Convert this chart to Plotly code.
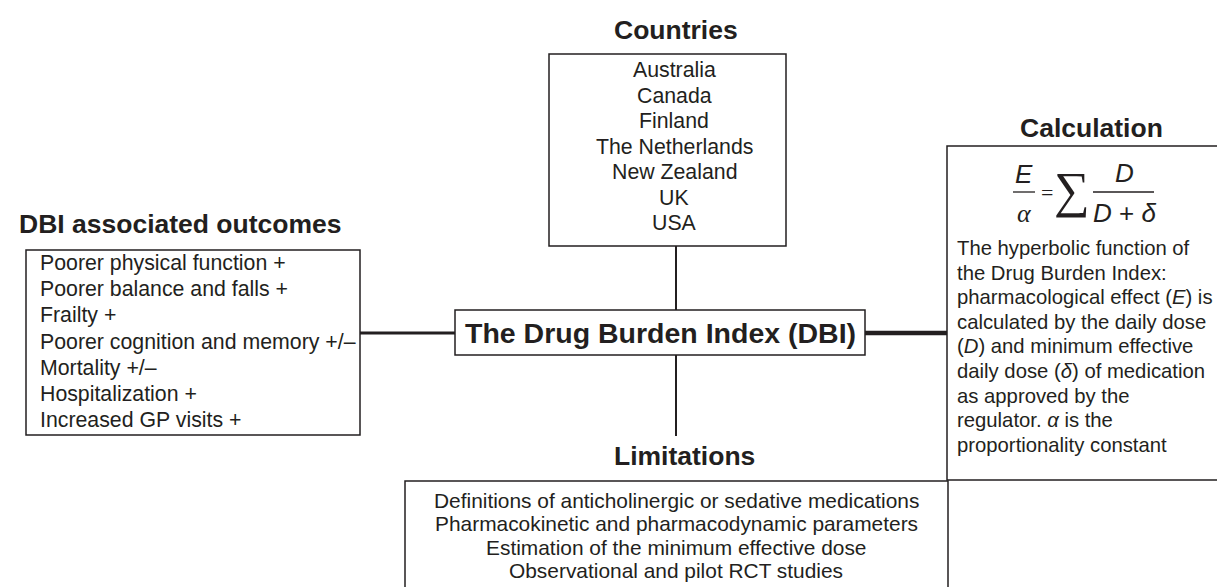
import plotly.graph_objects as go

# ---- content ----
countries = ["Australia", "Canada", "Finland", "The Netherlands", "New Zealand", "UK", "USA"]
outcomes = ["Poorer physical function +", "Poorer balance and falls +", "Frailty +",
            "Poorer cognition and memory +/\u2013", "Mortality +/\u2013",
            "Hospitalization +", "Increased GP visits +"]
limitations = ["Definitions of anticholinergic or sedative medications",
               "Pharmacokinetic and pharmacodynamic parameters",
               "Estimation of the minimum effective dose",
               "Observational and pilot RCT studies"]
calc_lines = ["The hyperbolic function of", "the Drug Burden Index:",
              "pharmacological effect (<i>E</i>) is", "calculated by the daily dose",
              "(<i>D</i>) and minimum effective", "daily dose (<i>\u03b4</i>) of medication",
              "as approved by the", "regulator. <i>\u03b1</i> is the", "proportionality constant"]
titles = {"countries": "Countries", "outcomes": "DBI associated outcomes",
          "limitations": "Limitations", "calc": "Calculation",
          "center": "The Drug Burden Index (DBI)"}

W, H = 1225, 587
INK = "#231f20"
FONT = "Arial, 'Liberation Sans', sans-serif"
MATH = "'Times New Roman', 'Liberation Serif', serif"
BODY = 21.3
TITLE = 26.5

fig = go.Figure()
shapes = []
ann = []

def box(x0, y0, x1, y1, w=1.5):
    shapes.append(dict(type="rect", xref="x", yref="y", x0=x0, y0=y0, x1=x1, y1=y1,
                       line=dict(color=INK, width=w), fillcolor="rgba(0,0,0,0)", layer="below"))

def line(x0, y0, x1, y1, w=2):
    shapes.append(dict(type="line", xref="x", yref="y", x0=x0, y0=y0, x1=x1, y1=y1,
                       line=dict(color=INK, width=w), layer="below"))

def text(x, y, s, size=BODY, bold=False, xanchor="center", italic=False, family=FONT):
    t = s
    if bold:
        t = "<b>" + t + "</b>"
    if italic:
        t = "<i>" + t + "</i>"
    ann.append(dict(x=x, y=y, xref="x", yref="y", text=t, showarrow=False,
                    xanchor=xanchor, yanchor="middle",
                    font=dict(family=family, size=size, color=INK), borderpad=0))

# Countries
text(668, 22, titles["countries"], TITLE, True)
box(541, 46, 778, 238)
for i, c in enumerate(countries):
    text(666, 62 + i * 25.5, c)
line(668, 238, 668, 302, 2)

# Centre
box(447, 302, 857, 347)
text(652, 325, titles["center"], 28.5, True)
line(352, 325, 447, 325, 3)
line(857, 325, 939, 325, 4.5)
line(668, 347, 668, 428, 2)

# Outcomes
text(10, 216, titles["outcomes"], TITLE, True, xanchor="left")
box(18, 242, 352, 427)
for i, o in enumerate(outcomes):
    text(31, 255 + i * 26.2, o, xanchor="left")

# Limitations
text(676, 448, titles["limitations"], TITLE, True)
box(397, 473, 940, 620)
for i, l in enumerate(limitations):
    text(668, 492 + i * 23.5, l, size=20.9)

# Calculation
text(1083, 120, titles["calc"], TITLE, True)
box(939, 138, 1240, 472)
# formula E/alpha = sum D/(D+delta)
text(1016, 166, "E", 26, italic=True, family=FONT)
line(1005, 184, 1027, 184, 1.3)
text(1016, 205, "\u03b1", 26, italic=True, family=MATH)
text(1039, 184, "=", 22, family=MATH)
text(1064, 182, "\u2211", 50, family=MATH)
text(1116, 165, "D", 26, italic=True, family=FONT)
line(1085, 184, 1146, 184, 1.3)
text(1116, 205, "<i>D</i> + <i>\u03b4</i>", 26, family=FONT)
for i, s in enumerate(calc_lines):
    text(948, 240 + i * 24.6, s, size=20.3, xanchor="left")

fig.update_layout(
    width=W, height=H, margin=dict(l=0, r=0, t=0, b=0),
    paper_bgcolor="white", plot_bgcolor="white",
    xaxis=dict(range=[0, W], visible=False, fixedrange=True),
    yaxis=dict(range=[H, 0], visible=False, fixedrange=True),
    shapes=shapes, annotations=ann, showlegend=False,
)
fig.write_html("out.html")
